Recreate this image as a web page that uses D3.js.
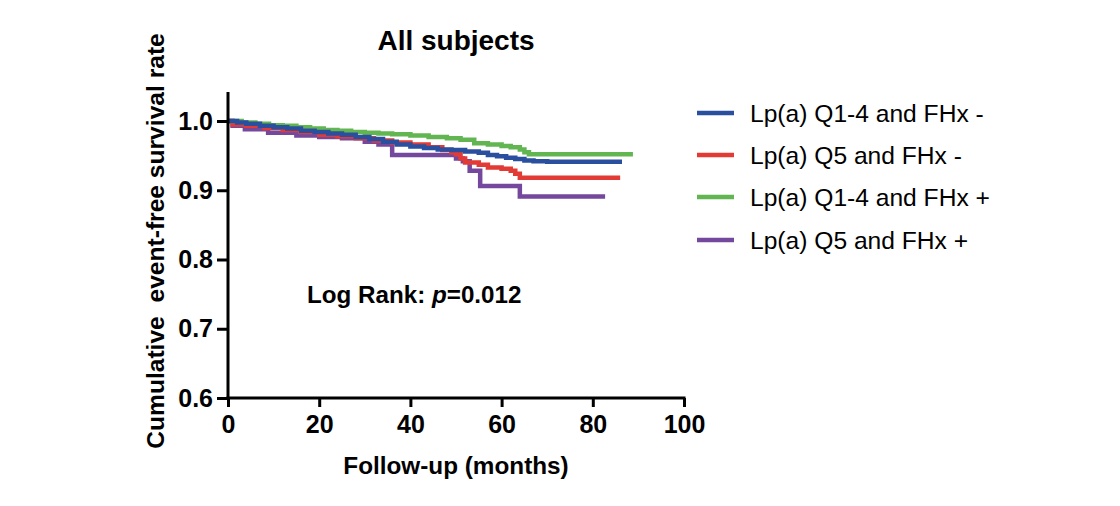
<!DOCTYPE html>
<html><head><meta charset="utf-8">
<script src="https://cdn.jsdelivr.net/npm/d3@7"></script>
<style>
html,body{margin:0;padding:0;background:#fff;}
text{font-family:"Liberation Sans",Arial,Helvetica,sans-serif;}
</style></head>
<body><svg id="chart" width="1120" height="506"></svg>
<script>
// ---- data ----
const seriesNames = ["Lp(a) Q1-4 and FHx -", "Lp(a) Q5 and FHx -", "Lp(a) Q1-4 and FHx +", "Lp(a) Q5 and FHx +"];
const seriesColors = ["#2b4f9f", "#e23b36", "#62b651", "#74489c"];
// Kaplan-Meier step knots: months
const blueT = [0,2,4,7,10,13,16,19,22,25,28,31,34,37,40,43,46,49,52,55,57,59,61,63,65,67,70,86.4];
const blueV = [1,.998,.996,.993,.991,.989,.986,.984,.982,.980,.977,.974,.970,.966,.963,.961,.959,.958,.956,.954,.951,.949,.947,.945,.943,.942,.941,.941];
const redT = [0,1,4,8,12,16,20,24,28,32,36,40,44,47,49,50,51,52,55,57,60,62,63,64,86];
const redV = [1,.995,.993,.990,.987,.984,.980,.978,.975,.972,.969,.966,.962,.958,.955,.952,.946,.940,.937,.933,.931,.928,.924,.918,.918];
const greenT = [0,3,6,9,12,15,18,21,24,27,30,33,36,40,44,48,51,54,57,60,62,64,65,66,88.8];
const greenV = [1,.998,.996,.994,.993,.991,.989,.987,.986,.984,.983,.982,.981,.979,.977,.975,.973,.968,.966,.964,.962,.959,.955,.952,.952];
const purpleT = [0,1,3.7,8.8,15,20,25,30,33,36,50,51.5,53,55.3,64,82.7];
const purpleV = [1,.993,.988,.983,.979,.977,.975,.970,.966,.951,.946,.942,.928,.906,.891,.891];
const xTicks = [0,20,40,60,80,100];
const yTicks = [0.6,0.7,0.8,0.9,1.0];
const titleText = "All subjects";
const xLabel = "Follow-up (months)";
const yLabel = "Cumulative  event-free survival rate";

const seriesData = [
  d3.zip(blueT, blueV), d3.zip(redT, redV), d3.zip(greenT, greenV), d3.zip(purpleT, purpleV)
];

const svg = d3.select("#chart");
const x = d3.scaleLinear().domain([0,100]).range([228,684]);
const y = d3.scaleLinear().domain([0.6,1.0]).range([398,121]);

// curves (draw order: purple, red, green, blue on top)
const line = d3.line().x(d=>x(d[0])).y(d=>y(d[1])).curve(d3.curveStepAfter);
const order = [3,1,2,0];
svg.append("g").selectAll("path").data(order).join("path")
  .attr("d", i=>line(seriesData[i]))
  .attr("fill","none").attr("stroke", i=>seriesColors[i])
  .attr("stroke-width",4.5).attr("stroke-linejoin","miter").attr("stroke-linecap","butt");

// axes
const xAxis = svg.append("g").attr("transform","translate(0,398)")
  .call(d3.axisBottom(x).tickValues(xTicks).tickSize(9).tickPadding(8).tickFormat(d3.format("d")));
const yAxis = svg.append("g").attr("transform","translate(228,0)")
  .call(d3.axisLeft(y).tickValues(yTicks).tickSize(11).tickPadding(4).tickFormat(d3.format(".1f")));
[xAxis,yAxis].forEach(g=>{
  g.select(".domain").remove();
  g.selectAll(".tick line").attr("stroke","#000").attr("stroke-width",3);
  g.selectAll(".tick text").attr("fill","#000").attr("font-size",25).attr("font-weight","bold")
   .attr("font-family","Liberation Sans, Arial, sans-serif");
});
// axis lines
svg.append("line").attr("x1",228).attr("x2",228).attr("y1",y(1.042)).attr("y2",399.5).attr("stroke","#000").attr("stroke-width",3);
svg.append("line").attr("x1",226.5).attr("x2",x(100)+1.5).attr("y1",398).attr("y2",398).attr("stroke","#000").attr("stroke-width",3);

// title
svg.append("text").attr("x",456).attr("y",50).attr("text-anchor","middle")
  .attr("font-size",28).attr("font-weight","bold").text(titleText);
// x label
svg.append("text").attr("x",456).attr("y",474).attr("text-anchor","middle")
  .attr("font-size",24.3).attr("font-weight","bold").text(xLabel);
// y label
svg.append("text").attr("transform","translate(164,241) rotate(-90)").attr("text-anchor","middle")
  .attr("font-size",24.6).attr("font-weight","bold").style("white-space","pre").text(yLabel);
// log rank
const lr = svg.append("text").attr("x",307).attr("y",303).attr("font-size",24.2).attr("font-weight","bold");
lr.append("tspan").text("Log Rank: ");
lr.append("tspan").attr("font-style","italic").text("p");
lr.append("tspan").text("=0.012");

// legend
const legY = [113,155,197,240];
const leg = svg.append("g").selectAll("g").data(seriesNames).join("g")
  .attr("transform",(d,i)=>`translate(0,${legY[i]})`);
leg.append("line").attr("x1",697).attr("x2",734).attr("y1",0).attr("y2",0)
  .attr("stroke",(d,i)=>seriesColors[i]).attr("stroke-width",4.5);
leg.append("text").attr("x",750).attr("y",8.5).attr("font-size",24.6).text(d=>d);
</script></body></html>
